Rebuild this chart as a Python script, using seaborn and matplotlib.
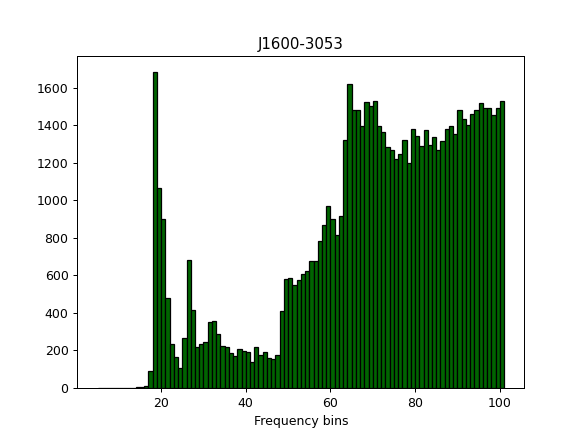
import numpy as np
import pandas as pd
import matplotlib
matplotlib.use("Agg")
import matplotlib.pyplot as plt
import seaborn as sns

# Frequency bin left edges (5 .. 100) and counts
bin_left = list(range(5, 101))
counts = [
    2, 1, 1, 1, 1, 1, 1, 1, 2, 6, 3, 10,          # 5-16
    88, 1684, 1067, 899, 479, 235, 165, 109,      # 17-24
    268, 680, 416, 221, 236, 245, 349, 358,       # 25-32
    287, 225, 220, 188, 172, 209, 195, 191,       # 33-40
    138, 220, 177, 191, 161, 154, 177, 411,       # 41-48
    578, 588, 548, 573, 609, 623, 674, 674,       # 49-56
    784, 866, 970, 899, 815, 918, 1321, 1617,     # 57-64
    1482, 1482, 1393, 1521, 1500, 1530, 1397, 1363,  # 65-72
    1283, 1269, 1218, 1246, 1321, 1197, 1379, 1340,  # 73-80
    1289, 1372, 1293, 1338, 1269, 1315, 1379, 1397,  # 81-88
    1353, 1479, 1434, 1400, 1461, 1480, 1518, 1489,  # 89-96
    1493, 1454, 1489, 1527,                       # 97-100
]
assert len(bin_left) == len(counts)

title = "J1600-3053"
xlabel = "Frequency bins"

df = pd.DataFrame({"bin": bin_left, "count": counts})
edges = list(bin_left) + [bin_left[-1] + 1]

fig = plt.figure(figsize=(574 / 90, 433 / 90), dpi=90)
ax = fig.add_axes([0.1347, 0.1039, 0.7787, 0.7667])

sns.histplot(data=df, x="bin", weights="count", bins=edges,
             color="darkgreen", edgecolor="black", alpha=1, linewidth=1,
             ax=ax)

ax.set_title(title)
ax.set_xlabel(xlabel)
ax.set_ylabel("")

fig.savefig("out.png", dpi=90, facecolor="white")
